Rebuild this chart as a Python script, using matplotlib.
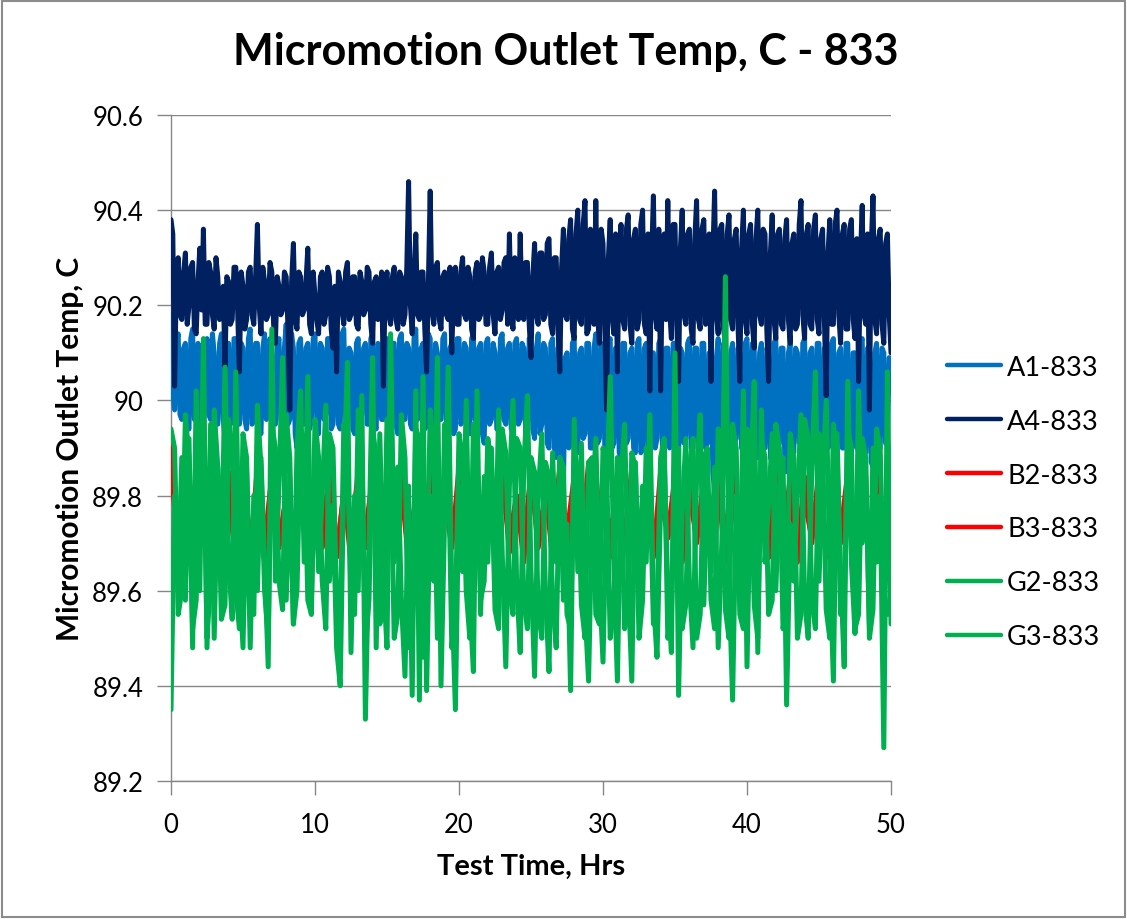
import numpy as np
import matplotlib
matplotlib.use("Agg")
import matplotlib.pyplot as plt
from matplotlib.patches import Rectangle
from matplotlib.ticker import FixedLocator, FuncFormatter

plt.rcParams['font.family'] = ['Lato', 'DejaVu Sans']

# ---------------- data ----------------
time_a = np.arange(401) * 0.125   # hours, A1 / A4 samples
time_g = np.arange(201) * 0.25    # hours, G2 / G3 samples
time_b = np.arange(101) * 0.5     # hours, B2 / B3 samples

A1_833 = [
    90.18, 90.02, 89.98, 90.12, 90.14, 89.97, 89.96, 90.11, 90.12, 89.95,
    89.94, 90.13, 90.15, 89.96, 89.97, 90.12, 90.11, 89.94, 89.93, 90.10,
    90.13, 89.97, 89.96, 90.14, 90.10, 89.95, 89.95, 90.12, 90.14, 89.96,
    89.92, 90.11, 90.12, 89.95, 89.97, 90.13, 90.13, 89.96, 89.95, 90.12,
    90.11, 89.96, 89.94, 90.13, 90.15, 89.95, 89.96, 90.12, 90.12, 89.94,
    89.93, 90.11, 90.14, 89.96, 89.97, 90.13, 90.10, 89.95, 89.95, 90.12,
    90.13, 89.96, 89.94, 90.11, 90.16, 89.95, 89.96, 90.14, 90.11, 89.93,
    89.90, 90.12, 90.13, 89.96, 89.95, 90.11, 90.12, 89.94, 89.96, 90.13,
    90.14, 89.95, 89.93, 90.12, 90.11, 89.96, 89.97, 90.13, 90.13, 89.94,
    89.95, 90.12, 90.12, 89.95, 89.94, 90.14, 90.15, 89.96, 89.96, 90.11,
    90.10, 89.94, 89.93, 90.12, 90.13, 89.96, 89.97, 90.11, 90.12, 89.95,
    89.95, 90.13, 90.14, 89.95, 89.94, 90.12, 90.11, 89.96, 89.96, 90.13,
    90.13, 89.94, 89.95, 90.12, 90.12, 89.95, 89.93, 90.13, 90.14, 89.96,
    89.96, 90.12, 90.11, 89.95, 89.94, 90.13, 90.15, 89.96, 89.97, 90.11,
    90.12, 89.94, 89.95, 90.14, 90.13, 89.95, 89.93, 90.12, 90.10, 89.96,
    89.96, 90.13, 90.14, 89.95, 89.95, 90.11, 90.12, 89.93, 89.94, 90.13,
    90.13, 89.95, 89.96, 90.12, 90.11, 89.94, 89.93, 90.13, 90.14, 89.96,
    89.95, 90.11, 90.12, 89.93, 89.91, 90.12, 90.13, 89.95, 89.96, 90.12,
    90.10, 89.94, 89.94, 90.13, 90.14, 89.96, 89.95, 90.11, 90.12, 89.94,
    89.93, 90.12, 90.13, 89.95, 89.96, 90.12, 90.11, 89.93, 89.94, 90.13,
    90.12, 89.94, 89.92, 90.11, 90.14, 89.93, 89.95, 90.12, 90.11, 89.91,
    89.90, 90.12, 90.13, 89.90, 89.88, 90.11, 90.12, 89.85, 89.81, 90.09,
    90.10, 89.90, 89.91, 90.12, 90.13, 89.91, 89.89, 90.10, 90.11, 89.92,
    89.93, 90.12, 90.12, 89.90, 89.90, 90.11, 90.14, 89.91, 89.92, 90.12,
    90.11, 89.90, 89.89, 90.12, 90.13, 89.90, 89.91, 90.11, 90.10, 89.89,
    89.88, 90.12, 90.12, 89.91, 89.92, 90.10, 90.11, 89.90, 89.89, 90.12,
    90.13, 89.89, 89.90, 90.11, 90.12, 89.88, 89.87, 90.10, 90.10, 89.90,
    89.92, 90.12, 90.13, 89.90, 89.89, 90.11, 90.11, 89.90, 89.91, 90.12,
    90.12, 89.89, 89.88, 90.11, 90.10, 89.91, 89.92, 90.12, 90.13, 89.90,
    89.90, 90.11, 90.11, 89.90, 89.89, 90.12, 90.12, 89.90, 89.91, 90.10,
    90.10, 89.85, 89.81, 90.09, 90.13, 89.89, 89.90, 90.12, 90.11, 89.89,
    89.88, 90.10, 90.12, 89.91, 89.92, 90.11, 90.10, 89.90, 89.89, 90.12,
    90.13, 89.90, 89.91, 90.12, 90.11, 89.89, 89.88, 90.10, 90.12, 89.90,
    89.90, 90.11, 90.10, 89.88, 89.87, 90.12, 90.13, 89.90, 89.91, 90.11,
    90.11, 89.87, 89.85, 90.10, 90.12, 89.90, 89.89, 90.11, 90.10, 89.91,
    89.92, 90.12, 90.13, 89.89, 89.88, 90.10, 90.11, 89.90, 89.90, 90.12,
    90.12, 89.90, 89.89, 90.11, 90.10, 89.90, 89.91, 90.12, 90.13, 89.89,
    89.88, 90.10, 90.11, 89.90, 89.90, 90.12, 90.12, 89.88, 89.87, 90.10,
    90.10, 89.90, 89.91, 90.12, 90.13, 89.90, 89.89, 90.11, 90.11, 89.87,
    89.86, 90.10, 90.12, 89.90, 89.90, 90.11, 90.10, 89.91, 89.91, 90.09,
    90.08,
]

A4_833 = [
    90.38, 90.35, 90.03, 90.26, 90.30, 90.18, 90.17, 90.27, 90.31, 90.16,
    90.20, 90.28, 90.29, 90.15, 90.14, 90.25, 90.32, 90.19, 90.36, 90.16,
    90.16, 90.29, 90.27, 90.18, 90.15, 90.30, 90.26, 90.17, 90.19, 90.24,
    90.07, 90.26, 90.25, 90.16, 90.17, 90.28, 90.28, 90.19, 90.06, 90.27,
    90.24, 90.15, 90.17, 90.27, 90.28, 90.18, 90.16, 90.26, 90.37, 90.20,
    90.14, 90.28, 90.25, 90.17, 90.18, 90.29, 90.27, 90.16, 90.12, 90.26,
    90.24, 90.18, 90.19, 90.27, 90.26, 90.15, 89.98, 90.25, 90.33, 90.17,
    90.15, 90.27, 90.26, 90.18, 90.19, 90.25, 90.32, 90.16, 90.14, 90.27,
    90.22, 90.17, 90.14, 90.26, 90.27, 90.16, 90.18, 90.28, 90.26, 90.15,
    90.11, 90.24, 90.06, 90.27, 90.25, 90.19, 90.16, 90.27, 90.29, 90.17,
    90.18, 90.26, 90.26, 90.16, 90.15, 90.27, 90.25, 90.18, 90.19, 90.28,
    90.27, 90.16, 90.12, 90.25, 90.26, 90.17, 90.18, 90.27, 90.03, 90.24,
    90.27, 90.18, 90.16, 90.26, 90.28, 90.17, 90.15, 90.27, 90.26, 90.16,
    90.18, 90.28, 90.46, 90.20, 90.14, 90.26, 90.35, 90.18, 90.17, 90.27,
    90.27, 90.15, 90.06, 90.25, 90.44, 90.19, 90.16, 90.28, 90.29, 90.17,
    90.15, 90.26, 90.27, 90.18, 90.17, 90.28, 90.10, 90.24, 90.28, 90.16,
    90.16, 90.27, 90.30, 90.18, 90.17, 90.28, 90.26, 90.15, 90.13, 90.27,
    90.29, 90.17, 90.18, 90.30, 90.27, 90.16, 90.16, 90.28, 90.31, 90.18,
    90.14, 90.27, 90.28, 90.17, 90.19, 90.29, 90.30, 90.16, 90.35, 90.18,
    90.15, 90.30, 90.26, 90.17, 90.35, 90.19, 90.17, 90.29, 90.29, 90.16,
    90.09, 90.26, 90.33, 90.18, 90.16, 90.31, 90.31, 90.17, 90.18, 90.33,
    90.34, 90.16, 90.14, 90.30, 90.30, 90.15, 90.06, 90.28, 90.36, 90.18,
    90.17, 90.34, 90.38, 90.15, 90.13, 90.35, 90.40, 90.17, 90.16, 90.37,
    90.42, 90.14, 90.15, 90.36, 90.34, 90.16, 90.42, 90.18, 90.12, 90.36,
    90.33, 90.16, 89.98, 90.30, 90.38, 90.18, 90.14, 90.35, 90.06, 90.30,
    90.37, 90.17, 90.15, 90.36, 90.39, 90.16, 90.12, 90.34, 90.36, 90.15,
    90.17, 90.37, 90.40, 90.16, 90.14, 90.35, 90.02, 90.30, 90.43, 90.18,
    90.15, 90.36, 90.02, 90.28, 90.35, 90.17, 90.42, 90.19, 90.13, 90.37,
    90.37, 90.16, 90.04, 90.32, 90.40, 90.18, 90.16, 90.35, 90.36, 90.15,
    90.12, 90.34, 90.42, 90.17, 90.15, 90.36, 90.38, 90.16, 90.17, 90.35,
    90.04, 90.30, 90.44, 90.18, 90.14, 90.36, 90.37, 90.15, 90.12, 90.35,
    90.39, 90.17, 90.15, 90.34, 90.36, 90.16, 90.04, 90.32, 90.40, 90.17,
    90.14, 90.35, 90.37, 90.16, 90.11, 90.34, 90.40, 90.18, 90.16, 90.36,
    90.35, 90.15, 90.04, 90.31, 90.39, 90.17, 90.13, 90.35, 90.36, 90.16,
    90.15, 90.34, 90.38, 90.17, 90.12, 90.33, 90.35, 90.15, 90.16, 90.37,
    90.42, 90.18, 90.13, 90.35, 90.37, 90.16, 90.15, 90.36, 90.39, 90.17,
    90.14, 90.34, 90.36, 90.17, 90.01, 90.31, 90.38, 90.16, 90.16, 90.37,
    90.40, 90.18, 90.12, 90.35, 90.37, 90.15, 90.15, 90.36, 90.38, 90.17,
    90.13, 90.34, 90.04, 90.30, 90.41, 90.18, 90.16, 90.35, 89.98, 90.32,
    90.43, 90.17, 90.14, 90.34, 90.36, 90.16, 90.12, 90.33, 90.35, 90.18,
    90.10,
]

B2_833 = [
    89.91, 89.72, 89.84, 89.68, 89.86, 89.70, 89.79, 89.67, 89.85, 89.71,
    89.78, 89.68, 89.86, 89.70, 89.84, 89.69, 89.80, 89.72, 89.85, 89.67,
    89.79, 89.70, 89.86, 89.68, 89.80, 89.71, 89.85, 89.69, 89.78, 89.72,
    89.84, 89.67, 89.86, 89.70, 89.79, 89.68, 89.85, 89.71, 89.80, 89.69,
    89.86, 89.70, 89.78, 89.67, 89.84, 89.72, 89.86, 89.68, 89.80, 89.70,
    89.85, 89.69, 89.79, 89.71, 89.86, 89.67, 89.80, 89.70, 89.87, 89.68,
    89.84, 89.72, 89.79, 89.69, 89.86, 89.70, 89.80, 89.67, 89.85, 89.71,
    89.78, 89.69, 89.86, 89.70, 89.84, 89.68, 89.86, 89.72, 89.79, 89.69,
    89.85, 89.70, 89.80, 89.67, 89.86, 89.71, 89.79, 89.68, 89.84, 89.70,
    89.86, 89.69, 89.80, 89.72, 89.85, 89.67, 89.79, 89.70, 89.86, 89.69,
    89.78,
]

B3_833 = [
    89.86, 89.69, 89.81, 89.66, 89.78, 89.66, 89.84, 89.70, 89.79, 89.67,
    89.83, 89.71, 89.77, 89.66, 89.85, 89.70, 89.80, 89.66, 89.79, 89.72,
    89.85, 89.69, 89.78, 89.67, 89.81, 89.66, 89.80, 89.72, 89.84, 89.68,
    89.79, 89.67, 89.82, 89.66, 89.80, 89.70, 89.85, 89.68, 89.78, 89.72,
    89.81, 89.66, 89.84, 89.70, 89.79, 89.67, 89.82, 89.71, 89.80, 89.66,
    89.85, 89.70, 89.81, 89.67, 89.79, 89.72, 89.84, 89.66, 89.80, 89.70,
    89.78, 89.67, 89.85, 89.71, 89.80, 89.66, 89.82, 89.70, 89.79, 89.72,
    89.84, 89.66, 89.80, 89.71, 89.79, 89.67, 89.82, 89.66, 89.85, 89.70,
    89.79, 89.72, 89.83, 89.67, 89.80, 89.70, 89.84, 89.66, 89.79, 89.71,
    89.81, 89.67, 89.84, 89.70, 89.79, 89.72, 89.82, 89.66, 89.80, 89.70,
    89.78,
]

G2_833 = [
    89.35, 89.80, 89.62, 89.88, 89.58, 89.92, 89.48, 90.02, 89.60, 90.13,
    89.48, 89.95, 89.50, 89.86, 89.62, 90.07, 89.66, 89.54, 90.06, 89.63,
    89.48, 89.85, 89.48, 89.80, 89.60, 89.88, 89.66, 89.44, 90.15, 89.62,
    89.82, 90.09, 89.58, 89.84, 89.53, 89.90, 90.02, 89.66, 90.05, 89.58,
    89.86, 89.64, 89.80, 89.99, 89.62, 89.78, 89.48, 89.40, 89.84, 90.08,
    89.47, 89.80, 89.60, 90.01, 89.33, 89.70, 90.09, 89.48, 89.93, 89.62,
    89.48, 90.14, 89.66, 89.86, 89.58, 89.42, 89.82, 89.38, 90.02, 89.37,
    90.05, 89.39, 89.80, 89.62, 90.09, 89.40, 89.75, 90.07, 89.60, 89.35,
    89.82, 89.64, 90.00, 89.58, 89.43, 90.02, 89.55, 89.84, 89.66, 89.90,
    89.60, 89.98, 89.68, 89.44, 89.82, 90.00, 89.62, 89.47, 89.86, 90.01,
    89.64, 89.42, 89.80, 89.93, 89.60, 89.43, 89.89, 89.66, 89.88, 89.58,
    89.74, 89.39, 89.96, 89.64, 89.91, 89.56, 89.41, 89.78, 89.92, 89.62,
    89.45, 89.80, 90.05, 89.66, 89.41, 89.84, 89.95, 89.62, 89.41, 89.87,
    89.60, 89.82, 89.66, 89.97, 89.58, 89.46, 89.78, 89.88, 89.60, 89.47,
    90.10, 89.38, 89.76, 89.92, 89.62, 89.48, 89.84, 89.97, 89.57, 89.82,
    89.64, 89.86, 89.48, 89.70, 90.26, 89.62, 89.37, 89.80, 89.58, 90.02,
    89.44, 89.84, 90.04, 89.47, 89.98, 89.66, 89.78, 89.93, 89.60, 89.82,
    89.88, 89.36, 89.74, 89.62, 89.80, 89.97, 89.58, 89.50, 89.86, 90.06,
    89.62, 89.84, 90.00, 89.66, 89.41, 89.93, 89.64, 89.44, 90.04, 89.66,
    89.51, 90.02, 89.70, 89.84, 89.53, 89.90, 89.66, 89.80, 89.27, 90.06,
    89.53,
]

G3_833 = [
    89.94, 89.90, 89.55, 89.60, 89.97, 89.88, 89.52, 89.58, 89.95, 89.92,
    89.50, 89.62, 89.98, 89.86, 89.54, 89.57, 89.96, 89.90, 89.60, 89.52,
    89.93, 89.88, 89.58, 89.55, 89.99, 89.86, 89.60, 89.50, 89.95, 89.90,
    89.62, 89.56, 89.97, 89.88, 89.53, 89.60, 89.94, 89.92, 89.58, 89.55,
    89.96, 89.88, 89.62, 89.52, 89.93, 89.90, 89.58, 89.50, 89.95, 89.87,
    89.60, 89.55, 89.98, 89.90, 89.48, 89.58, 89.94, 89.88, 89.53, 89.57,
    89.96, 89.90, 89.50, 89.55, 89.97, 89.88, 89.48, 89.52, 89.94, 89.92,
    89.46, 89.55, 89.98, 89.88, 89.50, 89.56, 89.95, 89.90, 89.48, 89.55,
    89.93, 89.88, 89.60, 89.50, 89.95, 89.90, 89.58, 89.62, 89.92, 89.87,
    89.56, 89.52, 89.94, 89.89, 89.60, 89.55, 89.92, 89.90, 89.58, 89.52,
    89.88, 89.85, 89.56, 89.50, 89.87, 89.84, 89.58, 89.48, 89.88, 89.86,
    89.55, 89.52, 89.90, 89.85, 89.57, 89.50, 89.87, 89.88, 89.55, 89.53,
    89.90, 89.86, 89.50, 89.56, 89.88, 89.84, 89.52, 89.55, 89.89, 89.86,
    89.50, 89.58, 89.90, 89.85, 89.53, 89.56, 89.88, 89.92, 89.50, 89.55,
    89.88, 89.90, 89.52, 89.57, 89.86, 89.92, 89.50, 89.55, 89.88, 89.90,
    89.58, 89.52, 89.94, 89.88, 89.56, 89.50, 89.95, 89.90, 89.55, 89.52,
    89.94, 89.90, 89.57, 89.50, 89.92, 89.88, 89.55, 89.58, 89.95, 89.90,
    89.52, 89.56, 89.93, 89.88, 89.50, 89.55, 89.96, 89.92, 89.58, 89.52,
    89.93, 89.90, 89.56, 89.50, 89.95, 89.88, 89.55, 89.58, 89.94, 89.90,
    89.52, 89.55, 89.92, 89.88, 89.50, 89.56, 89.94, 89.90, 89.58, 89.55,
    89.60,
]

series_labels = ["A1-833", "A4-833", "B2-833", "B3-833", "G2-833", "G3-833"]
series_colors = ["#0070C0", "#002060", "#FF0000", "#FF0000", "#00B050", "#00B050"]

x_ticks = [0, 10, 20, 30, 40, 50]
y_ticks = [89.2, 89.4, 89.6, 89.8, 90.0, 90.2, 90.4, 90.6]

title_text = "Micromotion Outlet Temp, C - 833"
x_label = "Test Time, Hrs"
y_label = "Micromotion Outlet Temp, C"

# ---------------- figure ----------------
W, H = 1127, 920
fig = plt.figure(figsize=(W / 100, H / 100), dpi=100)
ax = fig.add_axes([171 / W, 1 - 782 / H, (891 - 171) / W, (782 - 116) / H])

series = [
    (time_a, A1_833), (time_a, A4_833),
    (time_b, B2_833), (time_b, B3_833),
    (time_g, G2_833), (time_g, G3_833),
]
for (t, v), lab, col in zip(series, series_labels, series_colors):
    ax.plot(t, v, color=col, lw=3.6, label=lab, solid_joinstyle='round',
            solid_capstyle='round', zorder=3)

ax.set_xlim(0, 50)
ax.set_ylim(89.2, 90.6)
ax.xaxis.set_major_locator(FixedLocator(x_ticks))
ax.yaxis.set_major_locator(FixedLocator(y_ticks))
ax.yaxis.set_major_formatter(FuncFormatter(lambda v, p: f"{v:g}"))

grid_c = "#868686"
ax.grid(axis='y', color=grid_c, lw=1.0, zorder=0)
ax.set_axisbelow(True)
for s in ['top', 'right']:
    ax.spines[s].set_visible(False)
for s in ['left', 'bottom']:
    ax.spines[s].set_color(grid_c)
    ax.spines[s].set_linewidth(1.0)
ax.tick_params(axis='both', direction='out', length=10, width=1.0, color=grid_c,
               labelsize=18.5, labelcolor='black')
ax.tick_params(axis='x', pad=12)
ax.tick_params(axis='y', pad=10)

ax.set_xlabel(x_label, fontsize=21, fontweight='bold', labelpad=12)
ax.set_ylabel(y_label, fontsize=21.5, fontweight='bold', labelpad=6)
fig.text(566 / W, 1 - 52 / H, title_text, ha='center', va='center',
         fontsize=31, fontweight='bold')

leg = ax.legend(loc='center left', bbox_to_anchor=(947 / W, 1 - 503 / H),
                bbox_transform=fig.transFigure, frameon=False, fontsize=19.5,
                handlelength=2.0, handletextpad=0.22, labelspacing=1.07,
                borderpad=0, borderaxespad=0)
for line in leg.get_lines():
    line.set_linewidth(3.2)

fig.patches.append(Rectangle((0.0015, 0.002), 0.997, 0.996, transform=fig.transFigure,
                             fill=False, edgecolor="#8c8c8c", lw=1.5))

fig.savefig("out.png", dpi=100, facecolor='white')
